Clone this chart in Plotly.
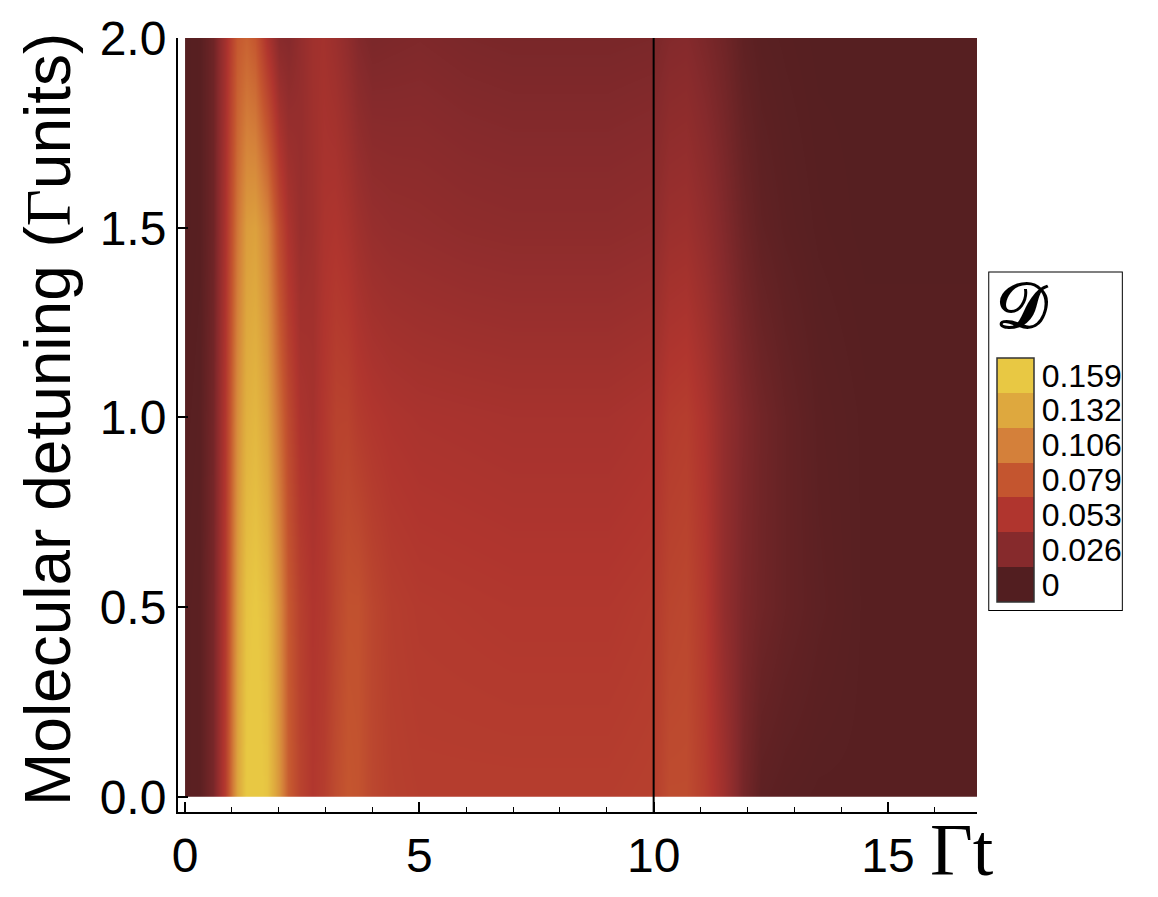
import plotly.graph_objects as go

# ---- data ----
t_vals = [0.0, 0.3, 0.6, 0.85, 1.1, 1.3, 1.5, 1.75, 2.0, 2.2, 2.45, 2.7, 2.95, 3.2, 3.45,
          3.7, 4.0, 4.4, 5.0, 6.0, 7.0, 8.0, 9.0, 10.0, 10.3, 10.7, 11.1, 11.5, 11.9,
          12.3, 12.8, 13.5, 14.5, 15.5, 16.9]
detuning = [0.0, 0.5, 1.0, 1.5, 2.0]

row_d00 = [0.004, 0.005, 0.020, 0.060, 0.130, 0.160, 0.165, 0.155, 0.120, 0.085, 0.065,
           0.055, 0.060, 0.072, 0.080, 0.078, 0.068, 0.062, 0.060, 0.060, 0.060, 0.060,
           0.060, 0.062, 0.072, 0.072, 0.060, 0.042, 0.018, 0.006, 0.004, 0.003, 0.003,
           0.003, 0.003]
row_d05 = [0.004, 0.005, 0.020, 0.058, 0.125, 0.155, 0.160, 0.150, 0.115, 0.082, 0.062,
           0.053, 0.056, 0.067, 0.076, 0.076, 0.067, 0.060, 0.057, 0.056, 0.055, 0.055,
           0.055, 0.058, 0.066, 0.068, 0.056, 0.034, 0.021, 0.015, 0.010, 0.006, 0.003,
           0.003, 0.003]
row_d10 = [0.003, 0.004, 0.018, 0.055, 0.115, 0.140, 0.145, 0.130, 0.095, 0.070, 0.050,
           0.046, 0.055, 0.064, 0.064, 0.058, 0.054, 0.051, 0.049, 0.048, 0.047, 0.047,
           0.047, 0.050, 0.058, 0.060, 0.050, 0.034, 0.023, 0.016, 0.010, 0.005, 0.003,
           0.003, 0.003]
row_d15 = [0.002, 0.003, 0.015, 0.050, 0.100, 0.125, 0.128, 0.110, 0.070, 0.050, 0.038,
           0.042, 0.050, 0.052, 0.048, 0.042, 0.037, 0.035, 0.034, 0.032, 0.031, 0.031,
           0.031, 0.033, 0.040, 0.041, 0.034, 0.024, 0.014, 0.008, 0.005, 0.003, 0.002,
           0.002, 0.002]
row_d20 = [0.002, 0.003, 0.015, 0.045, 0.082, 0.088, 0.080, 0.050, 0.028, 0.026, 0.035,
           0.043, 0.045, 0.040, 0.033, 0.025, 0.021, 0.022, 0.023, 0.021, 0.020, 0.020,
           0.020, 0.021, 0.025, 0.026, 0.021, 0.015, 0.007, 0.004, 0.003, 0.002, 0.002,
           0.002, 0.002]

level_labels = ["0", "0.026", "0.053", "0.079", "0.106", "0.132", "0.159"]
level_colors = ["#521E20", "#862A2C", "#B0352E", "#C4552F", "#D4803A", "#DEA83E", "#E8C843"]
x_ticks = [0, 5, 10, 15]
y_ticks = [0.0, 0.5, 1.0, 1.5, 2.0]
marker_time = 10

z = [row_d00, row_d05, row_d10, row_d15, row_d20]

n = len(level_colors)
smooth_scale = [[i / (n - 1), c] for i, c in enumerate(level_colors)]
disc_scale = []
for i, c in enumerate(level_colors):
    disc_scale.append([i / n, c])
    disc_scale.append([(i + 1) / n, c])

# page offset (default body margin) and plot-area geometry in screen pixels
OFF = 8
W, H = 1158 - OFF, 897 - OFF
L, R, T, B = 178 - OFF, 977 - OFF, 38 - OFF, 812 - OFF
pw, ph = R - L, B - T


def px_x(sx):
    return (sx - OFF - L) / pw


def px_y(sy):
    return (B - (sy - OFF)) / ph


fig = go.Figure()
fig.add_trace(go.Contour(
    x=t_vals, y=detuning, z=z,
    colorscale=smooth_scale, zmin=0, zmax=0.159,
    contours=dict(coloring="heatmap", showlines=False),
    line=dict(width=0),
    showscale=False, hoverinfo="skip",
))

# colorbar (discrete) via an invisible helper trace
fig.add_trace(go.Scatter(
    x=[None], y=[None], mode="markers",
    marker=dict(
        color=[0], colorscale=disc_scale, cmin=0, cmax=n, showscale=True,
        colorbar=dict(
            x=px_x(990), xanchor="left",
            y=px_y(608), yanchor="bottom",
            lenmode="pixels", len=336, thickness=37, thicknessmode="pixels",
            xpad=7, ypad=6,
            tickvals=[i + 0.5 for i in range(n)], ticktext=level_labels,
            ticks="", ticklabelposition="outside",
            tickfont=dict(family="Liberation Sans, Arial", size=32, color="black"),
            outlinecolor="#333333", outlinewidth=1.5,
            bordercolor="black", borderwidth=1,
            title=dict(text="<b>𝒟</b>", side="top",
                       font=dict(family="DejaVu Serif, Liberation Serif", size=64, color="black")),
        ),
    ),
    showlegend=False, hoverinfo="skip",
))

fig.add_vline(x=marker_time, line=dict(color="black", width=2))

# x-axis label
fig.add_annotation(
    text="Γt", xref="paper", yref="paper", x=px_x(962), y=px_y(850),
    xanchor="center", yanchor="middle", showarrow=False,
    font=dict(family="Liberation Serif, Times New Roman", size=74, color="black"),
)
# y-axis label
fig.add_annotation(
    text="Molecular detuning (<span style='font-family:Liberation Serif'>Γ</span>units)",
    xref="paper", yref="paper", x=px_x(48), y=px_y(420),
    xanchor="center", yanchor="middle", textangle=-90, showarrow=False,
    font=dict(family="Liberation Sans, Arial", size=64, color="black"),
)

axis_font = dict(family="Liberation Sans, Arial", size=48, color="black")
fig.update_xaxes(
    range=[-0.15, 16.9], tickvals=x_ticks, ticks="inside", ticklen=10, tickwidth=2,
    tickcolor="black", showline=True, linecolor="black", linewidth=2, mirror=False,
    showgrid=False, zeroline=False, tickfont=axis_font, automargin=False,
    minor=dict(dtick=1, ticks="inside", ticklen=5, tickwidth=1, tickcolor="black"),
)
fig.update_yaxes(
    range=[-0.04, 2.0], tickvals=y_ticks, ticktext=["0.0", "0.5", "1.0", "1.5", "2.0"],
    ticks="inside", ticklen=10, tickwidth=2, tickcolor="black",
    showline=True, linecolor="black", linewidth=2, showgrid=False, zeroline=False,
    tickfont=axis_font, automargin=False,
)

fig.update_layout(
    width=W, height=H,
    margin=dict(l=L, r=W - R, t=T, b=H - B, autoexpand=False),
    paper_bgcolor="white", plot_bgcolor="white",
    showlegend=False,
)

fig.write_html("out.html")
